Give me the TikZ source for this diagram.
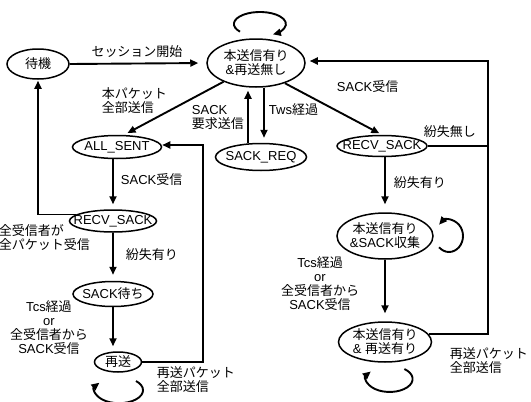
\documentclass[tikz,border=0pt]{standalone}
\usepackage{fontspec}
\setmainfont{Liberation Sans}
\newfontfamily\jpf{Noto Sans CJK JP}
\newcommand\JP[1]{{\jpf #1}}
\usetikzlibrary{arrows.meta,shapes.geometric}
\begin{document}
\begin{tikzpicture}[x=1pt,y=-1pt,line width=1.9pt,
  st/.style={ellipse,draw,line width=1.5pt,inner sep=-20pt,align=center,font=\fontsize{13}{14}\selectfont},
  arr/.style={-{Triangle[length=8pt,width=7pt]},shorten >=5pt},
  larr/.style={-{Triangle[length=8pt,width=7pt]}},
  lbl/.style={font=\fontsize{13}{14}\selectfont,inner sep=0pt}]
\useasboundingbox (0,0) rectangle (531,402);
% states
\node[st,minimum width=62pt,minimum height=30pt] (wait) at (38,64) {\JP{待機}};
\node[st,minimum width=98pt,minimum height=48pt] (main) at (256,63) {\JP{本送信有り}\\\&\JP{再送無し}};
\node[st,minimum width=91pt,minimum height=27pt] (sackreq) at (261,157) {SACK\_REQ};
\node[st,minimum width=89pt,minimum height=23pt] (allsent) at (117,147) {ALL\_SENT};
\node[st,minimum width=90pt,minimum height=21pt] (recvR) at (382,146) {RECV\_SACK};
\node[st,minimum width=87pt,minimum height=22pt] (recvL) at (113,221) {RECV\_SACK};
\node[st,minimum width=80pt,minimum height=25pt] (sackwait) at (113,294) {SACK\JP{待ち}};
\node[st,minimum width=47pt,minimum height=20pt] (resend) at (118,362) {\JP{再送}};
\node[st,minimum width=96pt,minimum height=46pt] (collect) at (385,236) {\JP{本送信有り}\\\&SACK\JP{収集}};
\node[st,minimum width=93pt,minimum height=40pt] (rr2) at (385,342) {\JP{本送信有り}\\\& \JP{再送有り}};
% helper coordinates
\coordinate (up) at (248,0);
\coordinate (dn) at (264,0);
\coordinate (lb) at (203,145);
\coordinate (rb) at (488,61);
% connectors
\draw[arr,shorten >=8pt] (wait.east) -- (main.west);
\draw[arr,shorten >=4pt] (main.210) -- (allsent.60);
\draw[arr,shorten >=3pt] (sackreq.north -| up) -- (main.south -| up);
\draw[arr] (main.south -| dn) -- (sackreq.north -| dn);
\draw[arr,shorten >=3pt] (main.325) -- (recvR.north);
\draw (recvR.east) -- (recvR.east -| rb);
\draw[arr,shorten >=4pt] (rr2.10) -| (rb) -- (main.east |- rb);
\draw[arr,shorten >=8pt] (recvR.south -| collect) -- (collect.north);
\draw[arr,shorten >=8pt] (collect.south) -- (rr2.north);
\draw[arr] (allsent.south -| recvL) -- (recvL.north);
\draw[arr,shorten >=1pt] (recvL.170) -| (wait.south);
\draw[arr,shorten >=6pt] (recvL.south) -- (sackwait.north);
\draw[arr] (sackwait.south) -- (sackwait.south |- resend.north);
\draw[arr,shorten >=0pt] (resend.east) -| (lb) -- (allsent.east |- lb);
% self loops
\draw[larr] (240,31.7) arc[start angle=220,end angle=-60,x radius=26pt,y radius=12pt];
\draw[larr] (439.1,247.3) arc[start angle=-135,end angle=135,x radius=14pt,y radius=16pt];
\draw[larr] (404.4,369) arc[start angle=50,end angle=-215,x radius=23pt,y radius=13pt];
\draw[larr] (136,381) arc[start angle=45,end angle=-215,x radius=24pt,y radius=13pt];
% labels
\node[lbl] (l1) at (137,52) {\JP{セッション開始}};
\node[lbl,align=left,anchor=west] (l2) at (101,101) {\JP{本パケット}\\\JP{全部送信}};
\node[lbl,align=left,anchor=west] (l3) at (191,117) {SACK\\\JP{要求送信}};
\node[lbl,anchor=west] (l4) at (268,110) {Tws\JP{経過}};
\node[lbl,anchor=west] (l5) at (336,87) {SACK\JP{受信}};
\node[lbl,anchor=west] (l6) at (423,132) {\JP{紛失無し}};
\node[lbl,anchor=west] (l7) at (393,183) {\JP{紛失有り}};
\node[lbl,align=center] (l8) at (320,284) {Tcs\JP{経過}\\or\\\JP{全受信者から}\\SACK\JP{受信}};
\node[lbl,align=left,anchor=west] (l9) at (449,361) {\JP{再送パケット}\\\JP{全部送信}};
\node[lbl,anchor=west] (l10) at (120,180) {SACK\JP{受信}};
\node[lbl,align=left,anchor=west] (l11) at (-2,238) {\JP{全受信者が}\\\JP{全パケット受信}};
\node[lbl,anchor=west] (l12) at (125,255) {\JP{紛失有り}};
\node[lbl,align=center] (l13) at (49,328) {Tcs\JP{経過}\\or\\\JP{全受信者から}\\SACK\JP{受信}};
\node[lbl,align=left,anchor=west] (l14) at (156,380) {\JP{再送パケット}\\\JP{全部送信}};
\end{tikzpicture}
\end{document}
